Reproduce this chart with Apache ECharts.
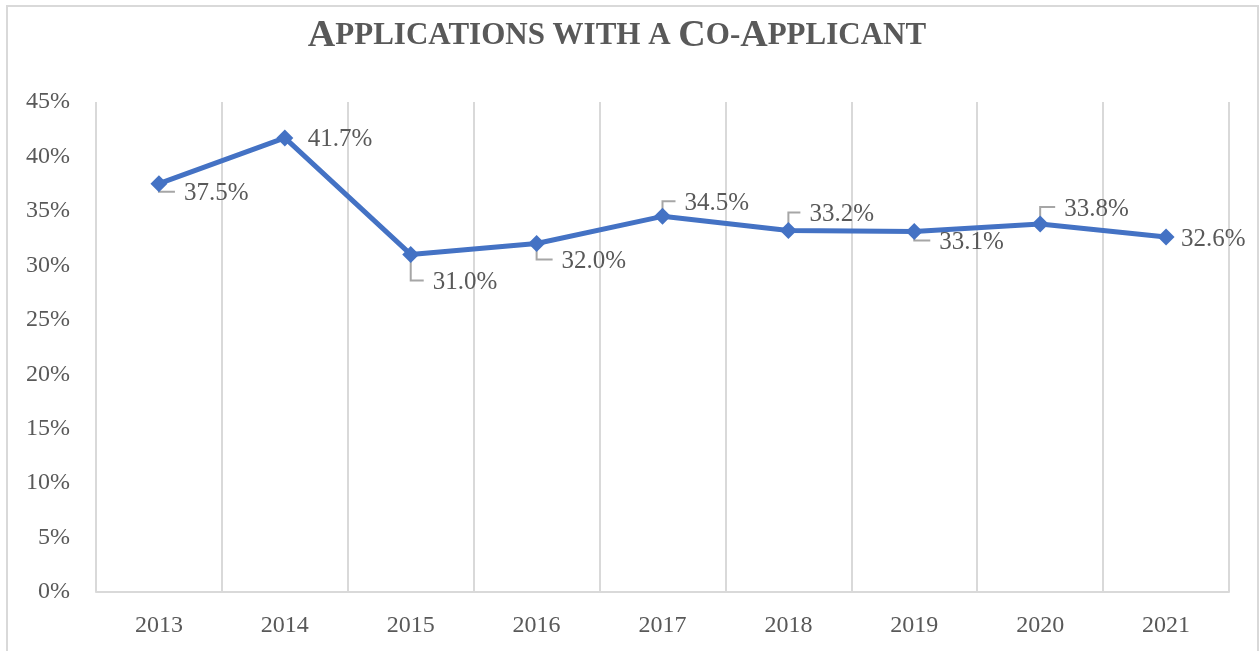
<!DOCTYPE html>
<html>
<head>
<meta charset="utf-8">
<script src="https://cdn.jsdelivr.net/npm/echarts@6/dist/echarts.min.js"></script>
<style>
  html, body { margin: 0; padding: 0; background: #fff; }
  #chart { width: 1260px; height: 651px; }
</style>
</head>
<body>
<div id="chart"></div>
<script>
const years = ['2013', '2014', '2015', '2016', '2017', '2018', '2019', '2020', '2021']
const coApplicantShare = [37.5, 41.7, 31.0, 32.0, 34.5, 33.2, 33.1, 33.8, 32.6]
const yTicks = [0, 5, 10, 15, 20, 25, 30, 35, 40, 45]

// label placement relative to each point: [left offset, vertical centre offset], like the Excel callouts
const labelShift = [
  [25, 10], [23, 2], [22, 28], [25, 18], [22, -13],
  [21, -16], [25, 11], [24, -15], [15, 2]
]
const showLeader = [true, false, true, true, true, true, true, true, false]

const serif = '"Liberation Serif", "Times New Roman", serif'
const chart = echarts.init(document.getElementById('chart'))

// elbow-shaped leader lines: down/up from the point, then across toward the label
const renderLeader = (params, api) => {
  const i = params.dataIndex
  if (!showLeader[i]) return null
  const p = api.coord([api.value(0), api.value(1)])
  const [dx, dy] = labelShift[i]
  const dir = dy > 0 ? 1 : -1
  const yElbow = p[1] + dy - 2
  return {
    type: 'polyline',
    shape: { points: [[p[0], p[1] + dir * 5], [p[0], yElbow], [p[0] + dx - 9, yElbow]] },
    style: { fill: null, stroke: '#a6a6a6', lineWidth: 2 },
    silent: true
  }
}

chart.setOption({
  animation: false,
  title: {
    text: '{b|A}{s|PPLICATIONS WITH A }{b|C}{s|O-}{b|A}{s|PPLICANT}',
    left: 612,
    textAlign: 'center',
    top: 12,
    textStyle: {
      rich: {
        b: { fontFamily: serif, fontWeight: 'bold', fontSize: 38, color: '#595959' },
        s: { fontFamily: serif, fontWeight: 'bold', fontSize: 31, color: '#595959' }
      }
    }
  },
  graphic: [{
    type: 'rect',
    shape: { x: 7, y: 6, width: 1251, height: 660 },
    style: { fill: null, stroke: '#d9d9d9', lineWidth: 2 },
    silent: true
  }],
  grid: { left: 96, right: 31, top: 102, bottom: 59 },
  xAxis: {
    type: 'category',
    data: years,
    boundaryGap: true,
    axisLine: { show: true, lineStyle: { color: '#d9d9d9', width: 2 } },
    axisTick: { show: false },
    axisLabel: { fontFamily: serif, fontSize: 24, color: '#595959', margin: 22 },
    splitLine: { show: true, lineStyle: { color: '#d9d9d9', width: 2 } }
  },
  yAxis: {
    type: 'value',
    min: yTicks[0],
    max: yTicks[yTicks.length - 1],
    interval: 5,
    axisLine: { show: false },
    axisTick: { show: false },
    splitLine: { show: false },
    axisLabel: { fontFamily: serif, fontSize: 24, color: '#595959', margin: 26, formatter: '{value}%' }
  },
  series: [
    {
      type: 'custom',
      z: 1,
      renderItem: renderLeader,
      data: coApplicantShare.map((v, i) => [i, v]),
      silent: true
    },
    {
      type: 'line',
      z: 3,
      data: coApplicantShare,
      symbol: 'diamond',
      symbolSize: 17,
      lineStyle: { color: '#4472c4', width: 5 },
      itemStyle: { color: '#4472c4' },
      label: {
        show: true,
        position: 'right',
        fontFamily: serif,
        fontSize: 25,
        color: '#595959',
        formatter: p => p.value.toFixed(1) + '%'
      },
      labelLayout: p => {
        const cx = p.rect.x + p.rect.width / 2
        const cy = p.rect.y + p.rect.height / 2
        const [dx, dy] = labelShift[p.dataIndex]
        return { x: cx + dx, y: cy + dy, align: 'left', verticalAlign: 'middle' }
      }
    }
  ]
})
</script>
</body>
</html>
